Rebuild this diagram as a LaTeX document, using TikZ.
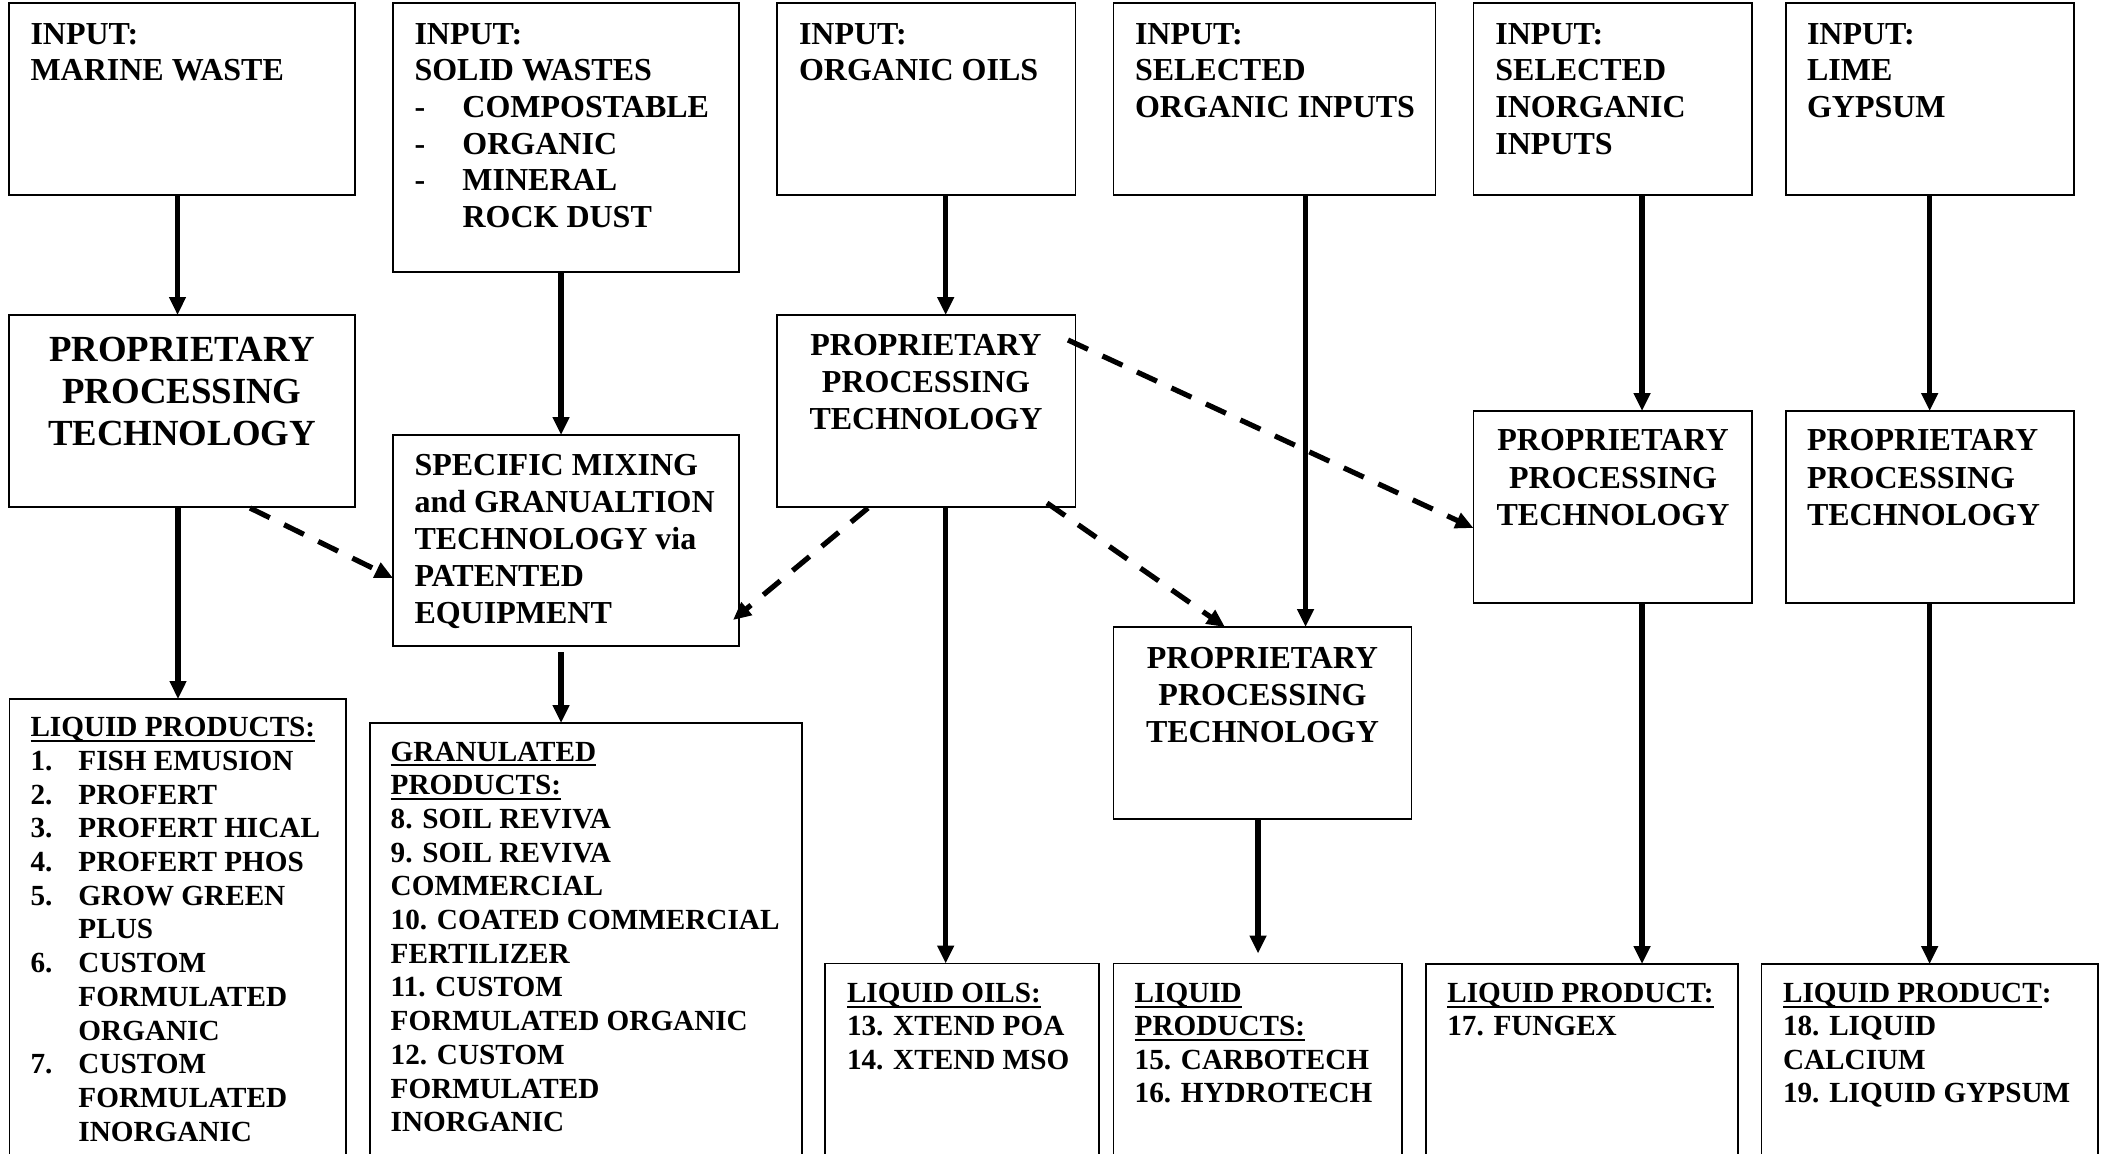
\documentclass[tikz,border=0pt]{standalone}
\usepackage{fontspec}
\setmainfont{Liberation Serif}
\usetikzlibrary{arrows.meta}
\newcommand\uln[1]{\setbox0\hbox{#1}\rlap{\rule[-2.6pt]{\wd0}{1.1pt}}\box0}
\newcommand\fs[2]{\fontsize{#1}{#2}\selectfont\bfseries}
\newcommand\lab[1]{\makebox[24pt][l]{#1}}
\newcommand\mkbox[5]{\node[boxst, minimum width={(#4-#2)*0.5pt}, minimum height={(#5-#3)*0.5pt}] (#1) at (#2,#3) {};}
\tikzset{
  boxst/.style={draw, line width=0.8pt, inner sep=0pt, outer sep=0pt, anchor=north west},
  txt/.style={inner sep=0pt, outer sep=0pt, anchor=base west},
  ctxt/.style={inner sep=0pt, outer sep=0pt, anchor=base},
  arr/.style={line width=2.6pt, -{Triangle[length=9pt,width=8pt]}},
  darr/.style={arr, dash pattern=on 11pt off 8pt},
}
\begin{document}
\begin{tikzpicture}[x=0.5pt,y=-0.5pt]
\useasboundingbox (0,0) rectangle (2107,1153);
\clip (0,0) rectangle (2107,1153);
% boxes
\mkbox{b1}{9}{3}{355}{195}
\mkbox{b2}{393}{3}{739}{272}
\mkbox{b3}{777}{3}{1075.6}{195}
\mkbox{b4}{1113.6}{3}{1435.4}{195}
\mkbox{b5}{1473.5}{3}{1752}{195}
\mkbox{b6}{1786}{3}{2074}{195}
\mkbox{p1}{9}{315}{355}{507}
\mkbox{mix}{393}{435}{739}{646}
\mkbox{p3}{777}{315}{1075.6}{507}
\mkbox{p4}{1113.5}{627}{1411.4}{819}
\mkbox{p5}{1473.5}{411}{1752}{603}
\mkbox{p6}{1786}{411}{2074}{603}
\mkbox{lp1}{9.4}{699}{345.7}{1200}
\mkbox{gran}{370}{723}{801.8}{1200}
\mkbox{lo}{825}{963.5}{1099}{1200}
\mkbox{lp2}{1113.5}{963.5}{1402}{1200}
\mkbox{lp3}{1425.7}{964}{1737.7}{1200}
\mkbox{lp4}{1761.6}{964}{2098}{1200}
% texts
\node[txt] (t1) at (30.5,44) {\fs{16}{18.35}\begin{tabular}[t]{@{}l@{}}INPUT:\\MARINE WASTE\end{tabular}};
\node[txt] (t2) at (414.5,44) {\fs{16}{18.35}\begin{tabular}[t]{@{}l@{}}INPUT:\\SOLID WASTES\\\lab{-}COMPOSTABLE\\\lab{-}ORGANIC\\\lab{-}MINERAL\\\lab{}ROCK DUST\end{tabular}};
\node[txt] (t3) at (799,44) {\fs{16}{18.35}\begin{tabular}[t]{@{}l@{}}INPUT:\\ORGANIC OILS\end{tabular}};
\node[txt] (t4) at (1135,44) {\fs{16}{18.35}\begin{tabular}[t]{@{}l@{}}INPUT:\\SELECTED\\ORGANIC INPUTS\end{tabular}};
\node[txt] (t5) at (1495.4,44) {\fs{16}{18.35}\begin{tabular}[t]{@{}l@{}}INPUT:\\SELECTED\\INORGANIC\\INPUTS\end{tabular}};
\node[txt] (t6) at (1807,44) {\fs{16}{18.35}\begin{tabular}[t]{@{}l@{}}INPUT:\\LIME\\GYPSUM\end{tabular}};
\node[ctxt] (tp1) at (182,361) {\fs{18.4}{21.2}\begin{tabular}[t]{@{}c@{}}PROPRIETARY\\PROCESSING\\TECHNOLOGY\end{tabular}};
\node[ctxt] (tp3) at (926,355.7) {\fs{16}{18.4}\begin{tabular}[t]{@{}c@{}}PROPRIETARY\\PROCESSING\\TECHNOLOGY\end{tabular}};
\node[txt] (tmix) at (414.5,475) {\fs{16}{18.5}\begin{tabular}[t]{@{}l@{}}SPECIFIC MIXING\\and GRANUALTION\\TECHNOLOGY via\\PATENTED\\EQUIPMENT\end{tabular}};
\node[ctxt] (tp4) at (1262.5,668.4) {\fs{16}{18.5}\begin{tabular}[t]{@{}c@{}}PROPRIETARY\\PROCESSING\\TECHNOLOGY\end{tabular}};
\node[ctxt] (tp5) at (1613,450.6) {\fs{16}{18.7}\begin{tabular}[t]{@{}c@{}}PROPRIETARY\\PROCESSING\\TECHNOLOGY\end{tabular}};
\node[txt] (tp6) at (1807,450.6) {\fs{16}{18.7}\begin{tabular}[t]{@{}l@{}}PROPRIETARY\\PROCESSING\\TECHNOLOGY\end{tabular}};
\node[txt] (tlp1) at (30.5,736.7) {\fs{14.6}{16.85}\begin{tabular}[t]{@{}l@{}}\uln{LIQUID PRODUCTS:}\\\lab{1.}FISH EMUSION\\\lab{2.}PROFERT\\\lab{3.}PROFERT HICAL\\\lab{4.}PROFERT PHOS\\\lab{5.}GROW GREEN\\\lab{}PLUS\\\lab{6.}CUSTOM\\\lab{}FORMULATED\\\lab{}ORGANIC\\\lab{7.}CUSTOM\\\lab{}FORMULATED\\\lab{}INORGANIC\end{tabular}};
\node[txt] (tgran) at (390.7,761) {\fs{14.6}{16.85}\begin{tabular}[t]{@{}l@{}}\uln{GRANULATED}\\\uln{PRODUCTS:}\\8. SOIL REVIVA\\9. SOIL REVIVA\\COMMERCIAL\\10. COATED COMMERCIAL\\FERTILIZER\\11. CUSTOM\\FORMULATED ORGANIC\\12. CUSTOM\\FORMULATED\\INORGANIC\end{tabular}};
\node[txt] (tlo) at (847,1002.7) {\fs{14.6}{16.6}\begin{tabular}[t]{@{}l@{}}\uln{LIQUID OILS:}\\13. XTEND POA\\14. XTEND MSO\end{tabular}};
\node[txt] (tlp2) at (1134.7,1002.7) {\fs{14.6}{16.6}\begin{tabular}[t]{@{}l@{}}\uln{LIQUID}\\\uln{PRODUCTS:}\\15. CARBOTECH\\16. HYDROTECH\end{tabular}};
\node[txt] (tlp3) at (1447.3,1002.7) {\fs{14.6}{16.6}\begin{tabular}[t]{@{}l@{}}\uln{LIQUID PRODUCT:}\\17. FUNGEX\end{tabular}};
\node[txt] (tlp4) at (1783,1002.7) {\fs{14.6}{16.6}\begin{tabular}[t]{@{}l@{}}\uln{LIQUID PRODUCT}:\\18. LIQUID\\CALCIUM\\19. LIQUID GYPSUM\end{tabular}};
% solid arrows
\draw[arr] (177.5,0 |- b1.south) -- (177.5,0 |- p1.north);
\draw[arr] (561,0 |- b2.south) -- (561,0 |- mix.north);
\draw[arr] (945.7,0 |- b3.south) -- (945.7,0 |- p3.north);
\draw[arr] (1305.5,0 |- b4.south) -- (1305.5,0 |- p4.north);
\draw[arr] (1642,0 |- b5.south) -- (1642,0 |- p5.north);
\draw[arr] (1929.6,0 |- b6.south) -- (1929.6,0 |- p6.north);
\draw[arr] (178,0 |- p1.south) -- (178,0 |- lp1.north);
\draw[arr] ([yshift=-3pt]561,0 |- mix.south) -- (561,0 |- gran.north);
\draw[arr] (945.7,0 |- p3.south) -- (945.7,0 |- lo.north);
\draw[arr] (1258,0 |- p4.south) -- ([yshift=5pt]1258,0 |- lp2.north);
\draw[arr] (1642,0 |- p5.south) -- (1642,0 |- lp3.north);
\draw[arr] (1929.6,0 |- p6.south) -- (1929.6,0 |- lp4.north);
% dashed arrows
\draw[darr] ([shift={(68,1)}]p1.south) -- ([shift={(0,143)}]mix.north west);
\draw[darr] ([shift={(91,1)}]p3.south west) -- ([shift={(-6,-26)}]mix.south east);
\draw[darr] ([shift={(-28.6,-4)}]p3.south east) -- ([shift={(-37.5,0)}]p4.north);
\draw[darr] ([shift={(-7.6,25)}]p3.north east) -- ([shift={(0,117)}]p5.north west);
\end{tikzpicture}
\end{document}
